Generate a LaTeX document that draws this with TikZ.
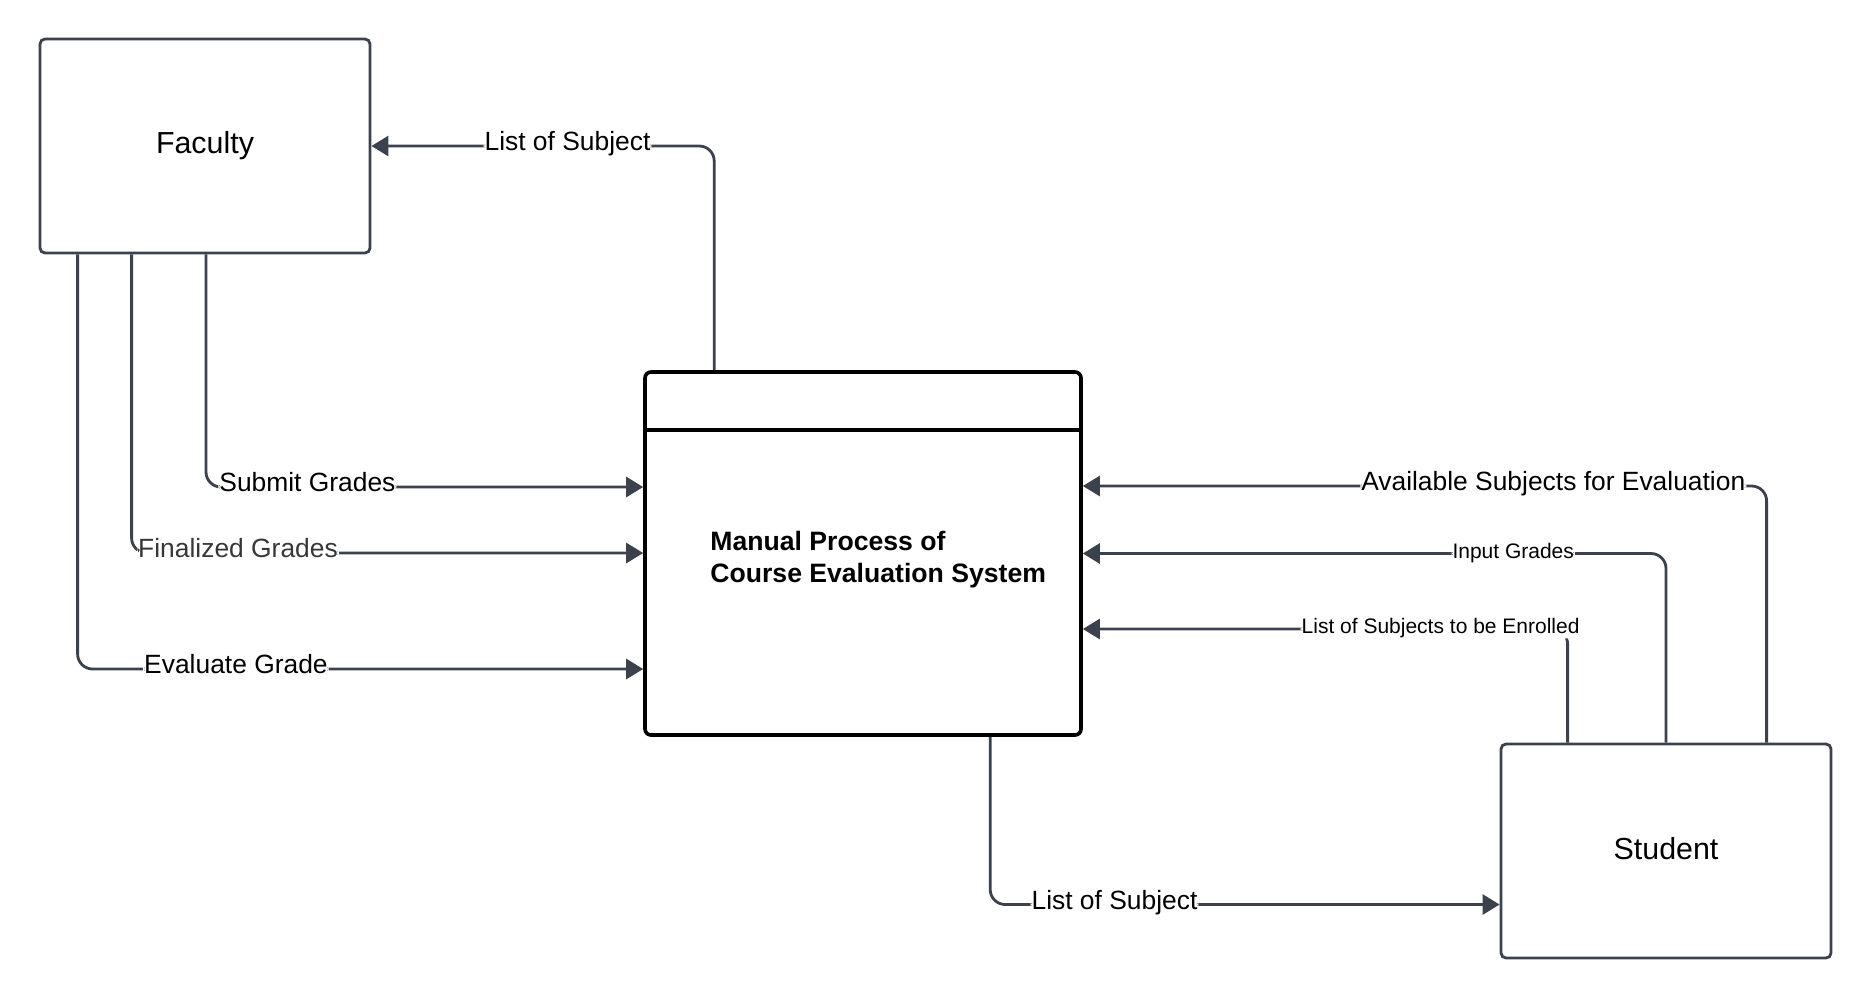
\documentclass[tikz,border=0pt]{standalone}
\usepackage{fontspec}
\setmainfont{Liberation Sans}
\usetikzlibrary{arrows.meta,calc}
\definecolor{linec}{RGB}{60,66,77}
\definecolor{fgray}{RGB}{55,55,55}
\begin{document}
\begin{tikzpicture}[x=0.5pt,y=-0.5pt,
 entity/.style={draw=linec, line width=1.4pt, rounded corners=2.5pt, inner sep=0pt, font=\fontsize{15.2}{18}\selectfont},
 procbox/.style={draw=black, line width=1.8pt, rounded corners=3pt, inner sep=0pt},
 flow/.style={draw=linec, line width=1.4pt, rounded corners=7.5pt, -{Triangle[length=8.5pt,width=10pt]}},
 lbl/.style={fill=white, inner xsep=0.5pt, inner ysep=0pt, text height=0.7em, text depth=0.25em, font=\fontsize{13.2}{15}\selectfont},
 slbl/.style={lbl, font=\fontsize{10.5}{12}\selectfont}
]
\useasboundingbox (0,0) rectangle (1871,998);
\node[entity, minimum width=165pt, minimum height=107pt] (fac) at (205,146) {Faculty};
\node[entity, minimum width=165pt, minimum height=107pt, text depth=3pt] (stu) at (1666,851) {Student};
\node[procbox, minimum width=218pt, minimum height=181.5pt] (proc) at (863,553.5) {};
\draw[black, line width=1.8pt] ($(proc.north west)+(2,60)$) -- ($(proc.north east)+(-2,60)$);
\node[anchor=north west, align=left, inner sep=0pt, font=\bfseries\fontsize{13.3}{16}\selectfont] (ptext) at (710,531) {Manual Process of\\Course Evaluation System};

\draw[flow] ($(proc.north west)+(71,0)$) |- node[lbl,pos=0.714] (l1) {List of Subject} (fac.east);
\draw[flow] ($(fac.south)+(1,0)$) |- node[lbl,pos=0.616] (l2) {Submit Grades} ($(proc.west)+(0,-66.5)$);
\draw[flow] ($(fac.south west)+(93,0)$) |- node[lbl,pos=0.604,text=fgray] (l3) {Finalized Grades} ($(proc.west)+(0,-0.5)$);
\draw[flow] ($(fac.south west)+(39,0)$) |- node[lbl,pos=0.640] (l4) {Evaluate Grade} ($(proc.west)+(0,115.5)$);
\draw[flow] ($(stu.north west)+(267,0)$) |- node[lbl,pos=0.656] (l5) {Available Subjects for Evaluation} ($(proc.east)+(0,-67.5)$);
\draw[flow] (stu.north) |- node[slbl,pos=0.631] (l6) {Input Grades} (proc.east);
\draw[flow] ($(stu.north west)+(68,0)$) |- node[slbl,pos=0.631] (l7) {List of Subjects to be Enrolled} ($(proc.east)+(0,75.5)$);
\draw[flow] ($(proc.south west)+(347,0)$) |- node[lbl,pos=0.622] (l8) {List of Subject} ($(stu.west)+(0,53.5)$);
\end{tikzpicture}
\end{document}
